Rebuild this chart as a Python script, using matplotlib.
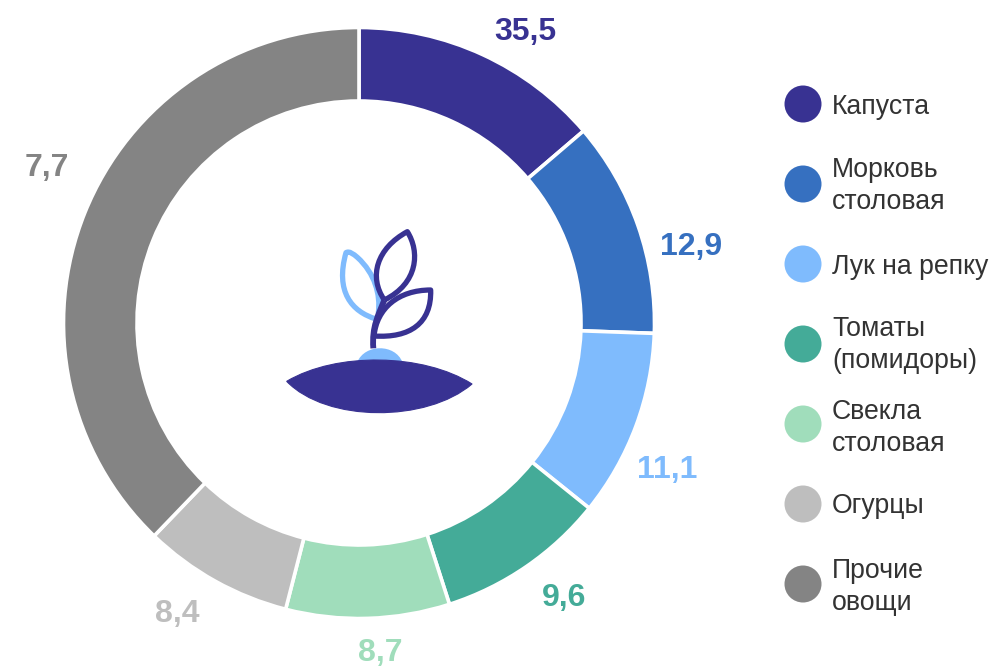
import matplotlib
matplotlib.use("Agg")
import matplotlib.pyplot as plt
from matplotlib.path import Path
from matplotlib.patches import PathPatch, Circle

plt.rcParams['font.family'] = ['Liberation Sans', 'DejaVu Sans']

categories = ["Капуста", "Морковь\nстоловая", "Лук на репку", "Томаты\n(помидоры)",
              "Свекла\nстоловая", "Огурцы", "Прочие\nовощи"]
slice_values = [12.9, 11.1, 9.6, 8.7, 8.4, 7.7, 35.5]
value_labels = ["35,5", "12,9", "11,1", "9,6", "8,7", "8,4", "7,7"]
colors = ["#383292", "#3670C0", "#7FBBFD", "#44AB98", "#A0DDBB", "#BEBEBE", "#848484"]

W, H = 992, 670
fig = plt.figure(figsize=(W / 100, H / 100), dpi=100, facecolor="white")

# overlay in pixel coordinates
ov = fig.add_axes([0, 0, 1, 1], zorder=2)
ov.set_xlim(0, W)
ov.set_ylim(H, 0)
ov.axis("off")
ov.patch.set_alpha(0)

# donut
cx, cy, R = 359, 323, 295.5
ax = fig.add_axes([(cx - R) / W, 1 - (cy + R) / H, 2 * R / W, 2 * R / H], zorder=1)
ax.pie(slice_values, colors=colors, startangle=90, counterclock=False, radius=1,
       wedgeprops=dict(width=73.5 / 295.5, edgecolor="white", linewidth=2.6))
ax.set_xlim(-1, 1)
ax.set_ylim(-1, 1)

# value labels
label_xy = [(525, 32), (691, 247), (667, 470), (564, 598), (380, 653), (177, 614), (47, 168)]
for (x, y), t, c in zip(label_xy, value_labels, colors):
    ov.text(x, y, t, color=c, fontsize=23, fontweight="bold", ha="center", va="center")

# legend
legend_y = [104, 184, 264, 344, 424, 504, 584]
text_y = [107, 186, 267, 345, 428, 506, 587]
for ty, cy_, t, c in zip(text_y, legend_y, categories, colors):
    ov.add_patch(Circle((803, cy_), 18.5, facecolor=c, edgecolor="none"))
    ov.text(832, ty, t, color="#333333", fontsize=19.2, ha="left", va="center", linespacing=1.32)

# central sprout icon (zoom-crop coordinates mapped to figure pixels)
def P(*pts):
    return [(270 + x / 3, 220 + y / 3) for x, y in pts]

def curve(start, *segs):
    verts = P(start)
    codes = [Path.MOVETO]
    for s in segs:
        verts += P(*s)
        codes += [Path.CURVE4] * 3
    return Path(verts, codes)

dark, light = "#383292", "#7FBBFD"
lw = 3.8

leaf_l = curve((318, 297), ((245, 275), (195, 215), (228, 98)),
               ((238, 92), (250, 102), (262, 112)), ((315, 160), (332, 225), (325, 278)))
ov.add_patch(PathPatch(leaf_l, fill=False, edgecolor=light, lw=lw, joinstyle="round", capstyle="round"))

mound = curve((262, 426), ((285, 371), (375, 371), (397, 426)))
ov.add_patch(PathPatch(mound, facecolor=light, edgecolor="none"))

ground = curve((50, 484), ((200, 395), (460, 400), (606, 492)), ((470, 608), (170, 608), (50, 484)))
ov.add_patch(PathPatch(ground, facecolor=dark, edgecolor=dark, lw=0.8, joinstyle="round"))

stem = curve((310, 385), ((305, 320), (325, 285), (343, 240)))
ov.add_patch(PathPatch(stem, fill=False, edgecolor=dark, lw=lw + 0.4, capstyle="butt"))

leaf_t = curve((343, 240), ((295, 170), (320, 85), (412, 35)),
               ((450, 95), (445, 190), (343, 240)))
ov.add_patch(PathPatch(leaf_t, fill=False, edgecolor=dark, lw=lw, joinstyle="round"))

leaf_r = curve((312, 348), ((320, 265), (385, 210), (482, 210)),
               ((485, 310), (420, 355), (312, 348)))
ov.add_patch(PathPatch(leaf_r, fill=False, edgecolor=dark, lw=lw, joinstyle="round"))

fig.savefig("out.png", dpi=100, facecolor="white")
